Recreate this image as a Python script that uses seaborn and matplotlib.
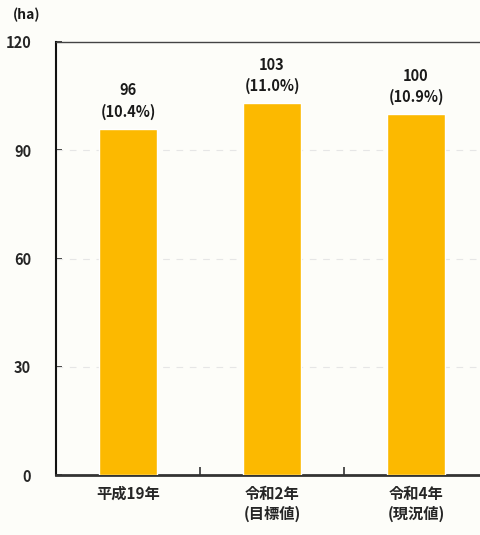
import matplotlib
matplotlib.use("Agg")
import matplotlib.pyplot as plt
from matplotlib.ticker import FixedLocator
import seaborn as sns
import pandas as pd

categories = ["平成19年", "令和2年\n(目標値)", "令和4年\n(現況値)"]
areas_ha = [96, 103, 100]
shares_pct = ["10.4%", "11.0%", "10.9%"]
y_ticks = [0, 30, 60, 90, 120]

sns.set_theme(style="white")
plt.rcParams["font.family"] = ["Noto Sans CJK JP", "DejaVu Sans"]
plt.rcParams["font.weight"] = "bold"

df = pd.DataFrame({"year": categories, "area": areas_ha})

bg = "#fdfdf9"
fig = plt.figure(figsize=(4.8, 5.35), dpi=100, facecolor=bg)
ax = fig.add_axes([0.1167, 0.1121, 0.9, 0.8094])
ax.set_facecolor(bg)

sns.barplot(data=df, x="year", y="area", color="#fcb900", width=0.4,
            saturation=1, ax=ax, zorder=3)

ax.set_ylim(0, 120)
ax.set_xlim(-0.5, 2.5)
ax.set_yticks(y_ticks)
ax.set_yticklabels([str(t) for t in y_ticks], fontsize=10.5, fontweight="bold")
ax.tick_params(axis="y", left=True, direction="in", length=4, width=1.2,
               color="#222222", pad=18)
ax.tick_params(axis="x", bottom=True, length=0, pad=8, labelsize=11)
for lbl in ax.get_xticklabels():
    lbl.set_fontweight("bold")
    lbl.set_linespacing(1.3)

# category separators on the baseline
ax.xaxis.set_minor_locator(FixedLocator([0.5, 1.5]))
ax.tick_params(axis="x", which="minor", bottom=True, direction="in", length=6,
               width=1.2, color="#333333")

for y in [30, 60, 90]:
    ax.axhline(y, color="#e6e6e6", lw=0.8, ls=(0, (6, 6)), zorder=1)

ax.set_xlabel("")
ax.set_ylabel("")

for i, (v, s) in enumerate(zip(areas_ha, shares_pct)):
    ax.text(i, v + 2.5, f"{v}\n({s})", ha="center", va="bottom", fontsize=10.5,
            fontweight="bold", color="#1a1a1a", linespacing=1.4)

ax.text(-0.1, 1.045, "(ha)", transform=ax.transAxes, ha="left", va="bottom",
        fontsize=10, fontweight="bold", color="#1a1a1a")

ax.spines["left"].set_color("#111111")
ax.spines["left"].set_linewidth(1.5)
ax.spines["bottom"].set_color("#333333")
ax.spines["bottom"].set_linewidth(2)
ax.spines["top"].set_color("#444444")
ax.spines["top"].set_linewidth(1)
ax.spines["right"].set_visible(False)

fig.savefig("out.png", dpi=100, facecolor=bg)
